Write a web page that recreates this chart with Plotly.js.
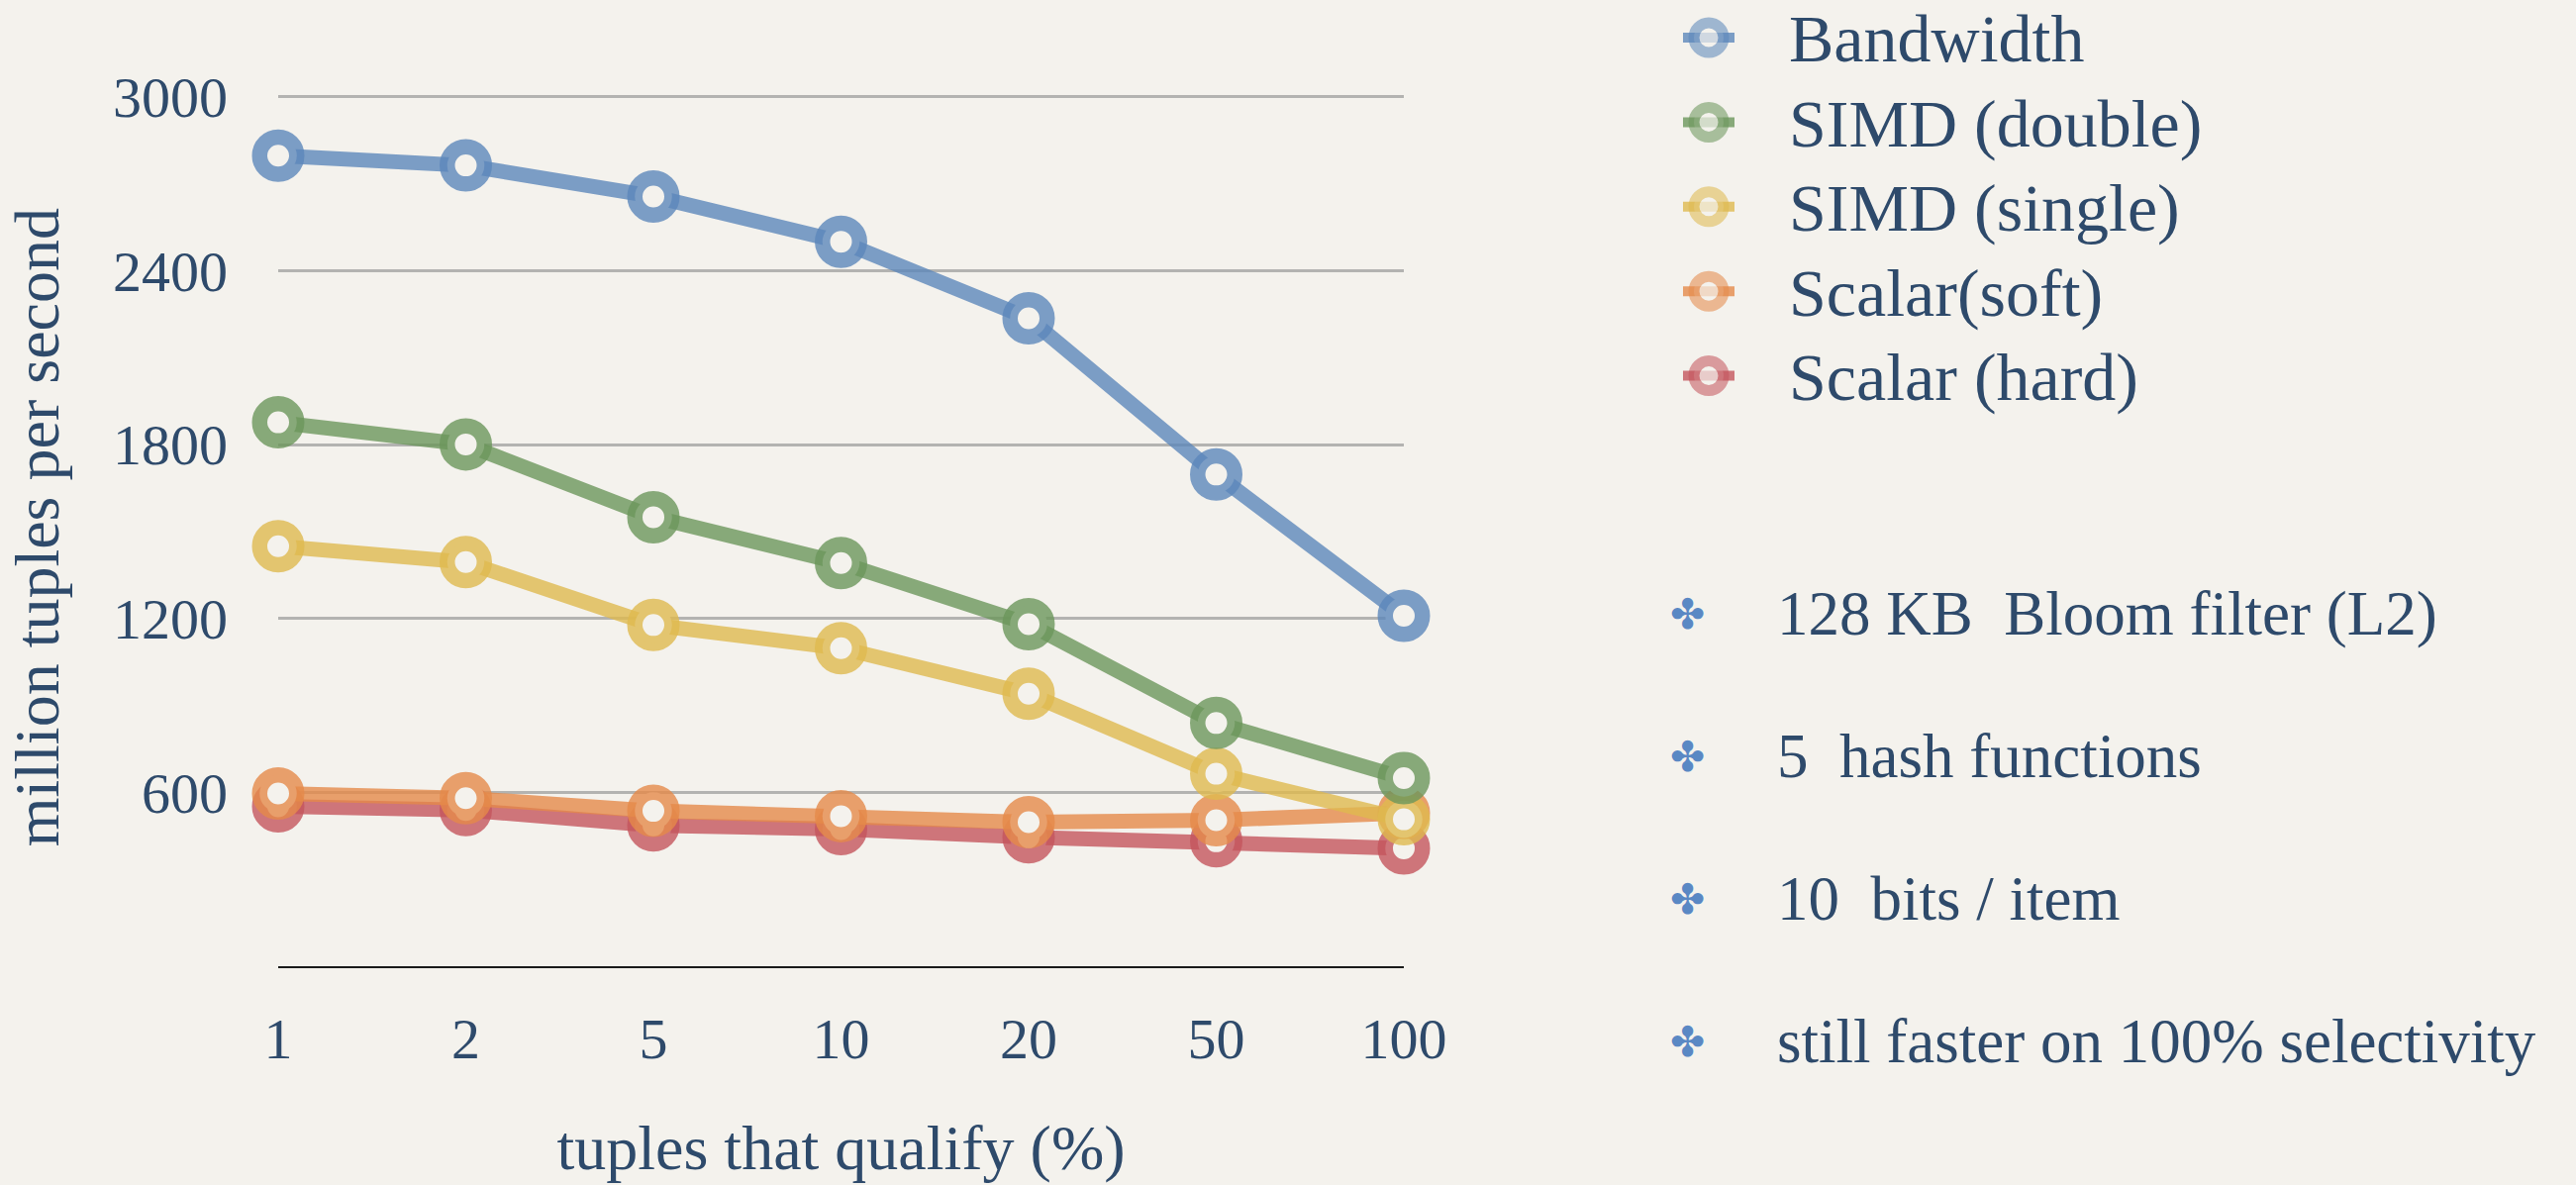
<!DOCTYPE html>
<html>
<head>
<meta charset="utf-8">
<script src="https://cdn.plot.ly/plotly-3.0.1.min.js"></script>
<style>
  html, body { margin: 0; padding: 0; background: #f4f2ed; }
  #chart { width: 2602px; height: 1197px; }
</style>
</head>
<body>
<div id="chart"></div>
<script>
// ---- data ----
const categories = ['1', '2', '5', '10', '20', '50', '100'];
const seriesNames = ['Bandwidth', 'SIMD (double)', 'SIMD (single)', 'Scalar(soft)', 'Scalar (hard)'];
const bandwidth  = [2797, 2763, 2656, 2500, 2236, 1697, 1210];
const simdDouble = [1877, 1801, 1550, 1392, 1181, 840, 650];
const simdSingle = [1450, 1395, 1178, 1098, 941, 665, 508];
const scalarSoft = [597, 581, 537, 519, 498, 505, 530];
const scalarHard = [553, 540, 487, 474, 446, 432, 408];
const yTicks = [600, 1200, 1800, 2400, 3000];
const notes = [
  '128 KB\u00A0 Bloom filter (L2)',
  '5\u00A0 hash functions',
  '10\u00A0 bits / item',
  'still faster on 100% selectivity'
];

// ---- styling ----
const W = 2602, H = 1197;
const BG = '#f4f2ed';
const TEXT = '#2e4a6b';
const SERIF = 'Liberation Serif, Times New Roman, serif';
const colors = [
  'rgba(93,135,186,0.8)',
  'rgba(107,150,91,0.8)',
  'rgba(223,185,79,0.8)',
  'rgba(229,137,74,0.8)',
  'rgba(196,85,92,0.8)'
];
const allSeries = [bandwidth, simdDouble, simdSingle, scalarSoft, scalarHard];

// plot area in pixels (y range extends a little above 3000 so its grid line shows)
const YMAX = 3030;
const PL = 281, PR = 1418, PB = 976.4;
const PX_PER_UNIT = (976.4 - 97.7) / 3000;
const PT = PB - YMAX * PX_PER_UNIT;

// legend rows
const LEG_TOP = 38, LEG_STEP = 85.4;

const traces = [];
// draw in reverse order so Bandwidth is on top, Scalar (hard) at bottom
for (let i = allSeries.length - 1; i >= 0; i--) {
  traces.push({
    type: 'scatter',
    mode: 'lines+markers',
    name: seriesNames[i],
    x: categories,
    y: allSeries[i],
    xaxis: 'x', yaxis: 'y',
    cliponaxis: false,
    showlegend: false,
    line: { color: colors[i], width: 15 },
    marker: { symbol: 'circle', size: 37.5, color: BG, line: { color: colors[i], width: 15.5 } },
    hoverinfo: 'x+y+name'
  });
}
// legend symbols on a helper axis pair
for (let i = 0; i < seriesNames.length; i++) {
  traces.push({
    type: 'scatter',
    mode: 'lines+markers',
    x: [-1, 0, 1],
    y: [i, i, i],
    xaxis: 'x2', yaxis: 'y2',
    cliponaxis: false,
    showlegend: false,
    hoverinfo: 'skip',
    line: { color: colors[i], width: 10 },
    marker: { symbol: 'circle', size: [0, 30, 0], color: BG, line: { color: colors[i], width: [0, 11, 0] } }
  });
}

const annotations = [];
// legend labels
seriesNames.forEach((name, i) => {
  annotations.push({
    xref: 'paper', yref: 'paper',
    x: 1805 / W, y: 1 - (LEG_TOP + 1.5 + LEG_STEP * i) / H,
    xanchor: 'left', yanchor: 'middle',
    text: name, showarrow: false,
    font: { family: SERIF, size: 68, color: TEXT }
  });
});
// bullet notes
notes.forEach((t, i) => {
  const cy = 620 + 144 * i;
  annotations.push({
    xref: 'paper', yref: 'paper',
    x: 1704 / W, y: 1 - cy / H,
    xanchor: 'center', yanchor: 'middle',
    text: '\u2724', showarrow: false,
    font: { family: 'DejaVu Sans', size: 42, color: '#5a88c4' }
  });
  annotations.push({
    xref: 'paper', yref: 'paper',
    x: 1793 / W, y: 1 - cy / H,
    xanchor: 'left', yanchor: 'middle',
    text: t, showarrow: false,
    font: { family: SERIF, size: 63, color: TEXT }
  });
});

// helper legend axis: rows 0..4 at LEG_TOP + LEG_STEP*i pixels
const Y2_TOP_PX = 20, Y2_BOT_PX = 420;
const y2Range = [(Y2_BOT_PX - LEG_TOP) / LEG_STEP, (Y2_TOP_PX - LEG_TOP) / LEG_STEP];

const layout = {
  width: W, height: H,
  margin: { l: 0, r: 0, t: 0, b: 0 },
  paper_bgcolor: BG,
  plot_bgcolor: BG,
  showlegend: false,
  font: { family: SERIF, color: TEXT },
  xaxis: {
    type: 'category',
    domain: [PL / W, PR / W],
    range: [0, categories.length - 1],
    showgrid: false,
    zeroline: false,
    showline: true, linecolor: '#1a1a1a', linewidth: 2,
    ticks: '',
    ticklabelstandoff: 21,
    tickfont: { family: SERIF, size: 58, color: TEXT },
    title: { text: 'tuples that qualify (%)', font: { family: SERIF, size: 64, color: TEXT }, standoff: 55 },
    automargin: false,
    fixedrange: true
  },
  yaxis: {
    domain: [1 - PB / H, 1 - PT / H],
    range: [0, YMAX],
    tickvals: yTicks,
    ticktext: yTicks.map(String),
    showgrid: true, gridcolor: '#b3b3b1', gridwidth: 2.5,
    zeroline: false,
    showline: false,
    ticks: '',
    ticklabelstandoff: 50,
    tickfont: { family: SERIF, size: 58, color: TEXT },
    title: { text: 'million tuples per second', font: { family: SERIF, size: 64, color: TEXT }, standoff: 33 },
    automargin: false,
    fixedrange: true
  },
  xaxis2: {
    domain: [1700 / W, 1752 / W], range: [-1, 1], anchor: 'y2',
    visible: false, fixedrange: true
  },
  yaxis2: {
    domain: [1 - Y2_BOT_PX / H, 1 - Y2_TOP_PX / H], range: y2Range, anchor: 'x2',
    visible: false, fixedrange: true
  },
  annotations: annotations
};

Plotly.newPlot('chart', traces, layout, { displayModeBar: false, responsive: false });
</script>
</body>
</html>
